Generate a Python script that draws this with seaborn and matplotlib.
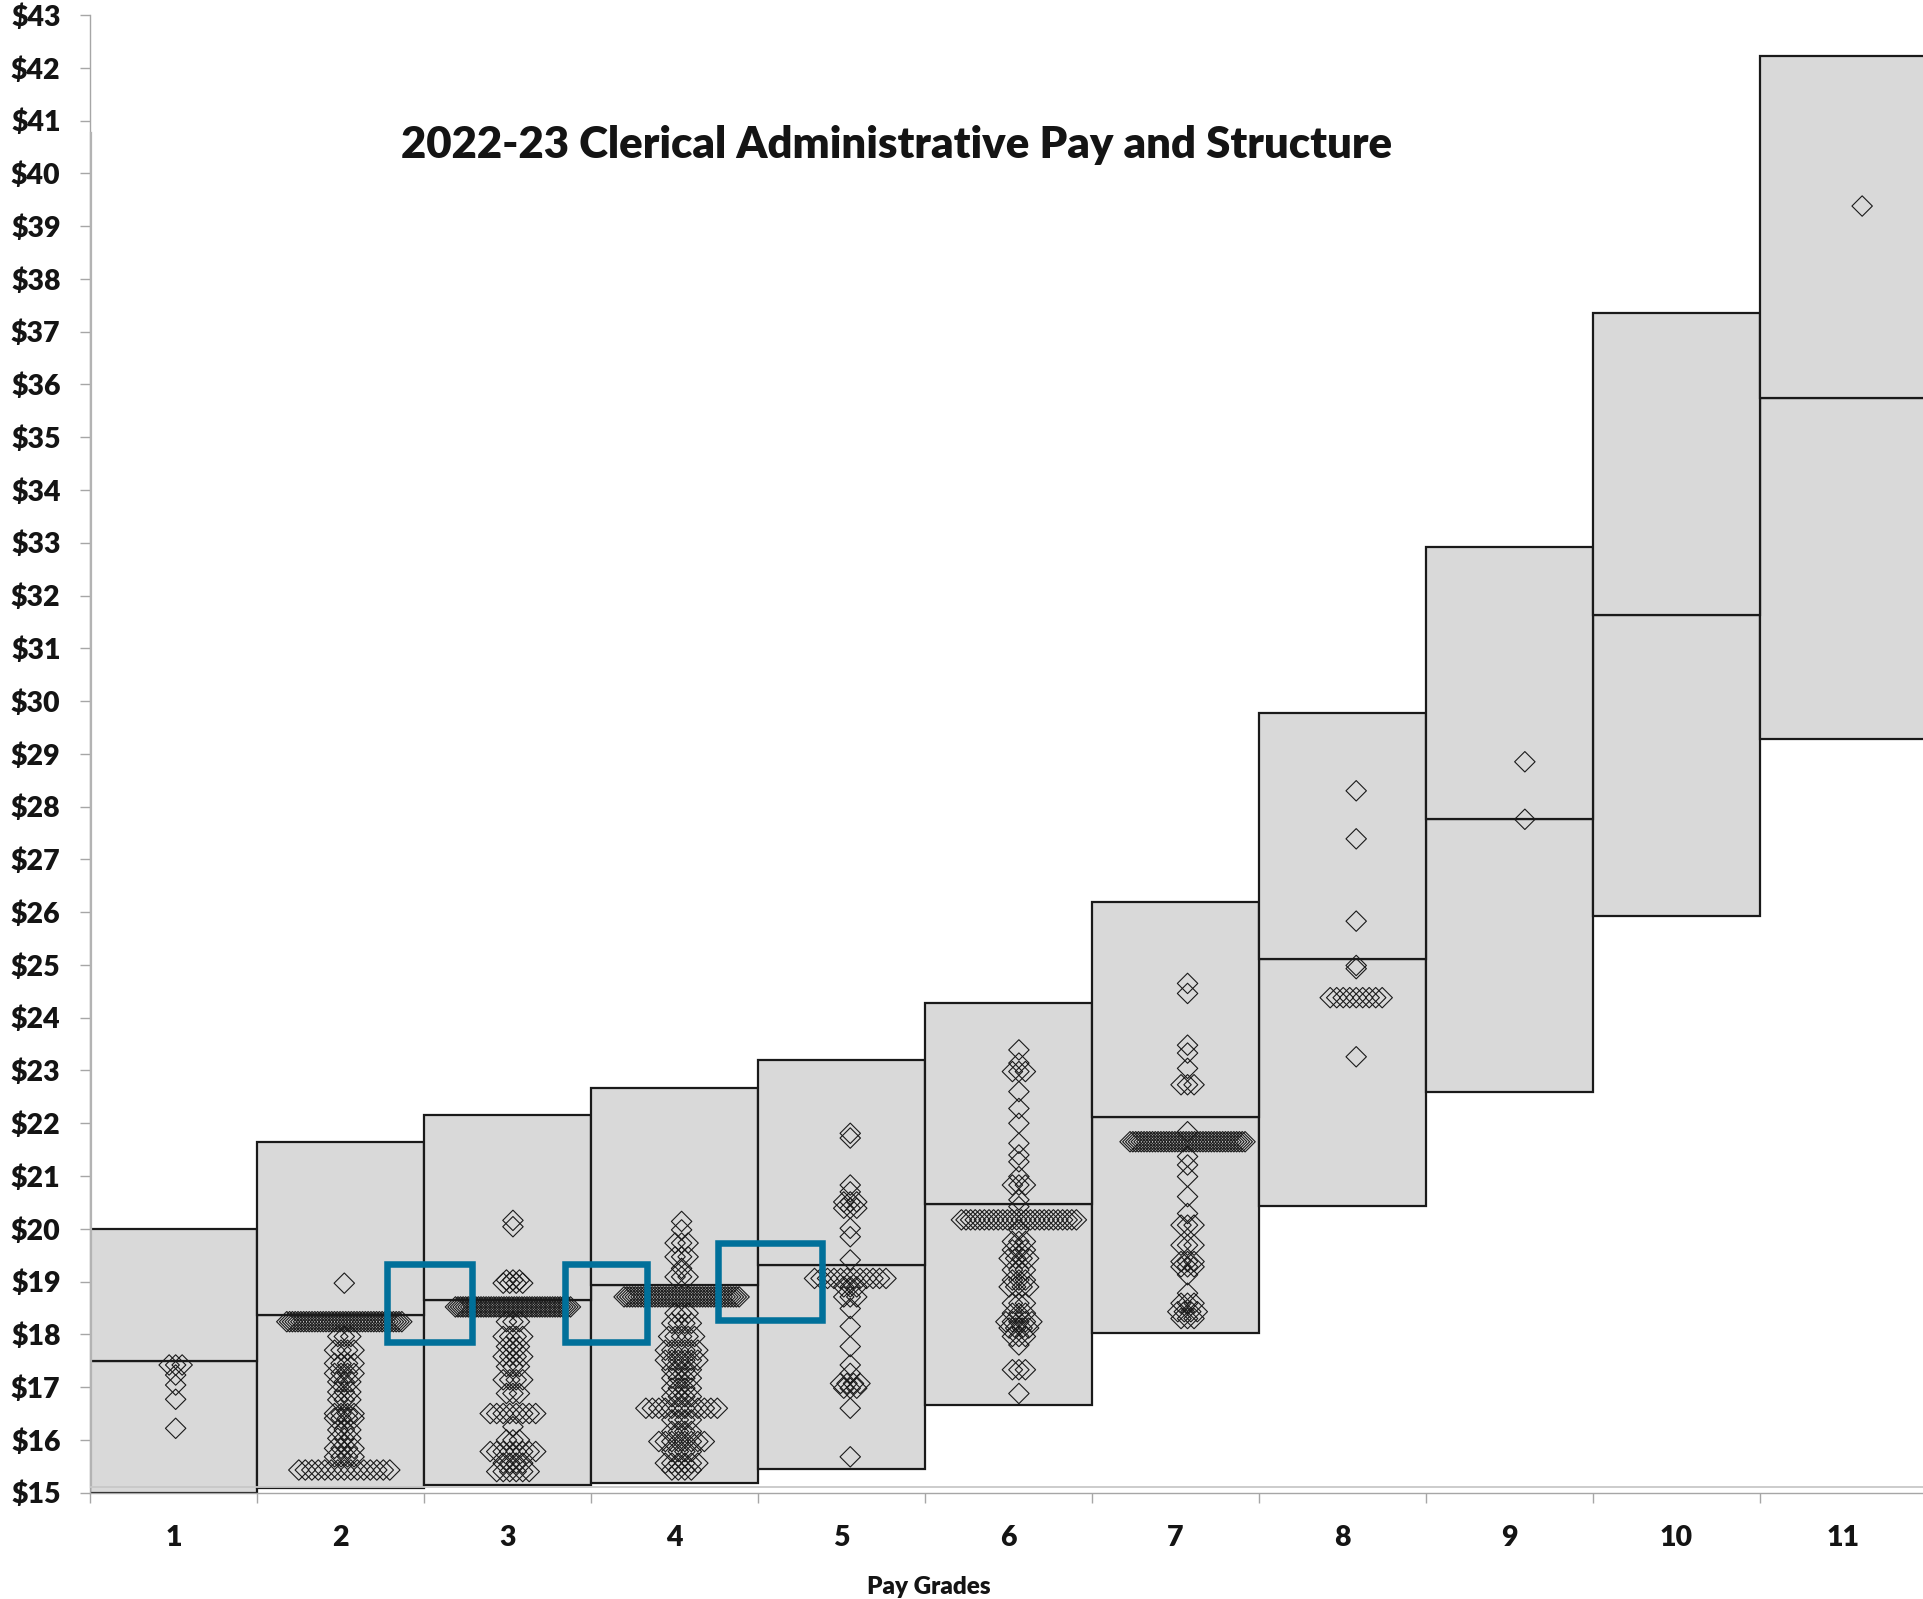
import numpy as np
import pandas as pd
import matplotlib
matplotlib.use("Agg")
import matplotlib.pyplot as plt
from matplotlib.patches import Rectangle
import seaborn as sns

# ---------------------------------------------------------------------------
# Pay structure by grade (hourly): range minimum, midpoint, maximum
# ---------------------------------------------------------------------------
grades = ["1", "2", "3", "4", "5", "6", "7", "8", "9", "10", "11"]
range_min = [15.00, 15.09, 15.14, 15.19, 15.44, 16.67, 18.02, 20.44, 22.60, 25.92, 29.29]
range_mid = [17.50, 18.37, 18.65, 18.93, 19.32, 20.47, 22.11, 25.11, 27.76, 31.64, 35.75]
range_max = [20.00, 21.65, 22.16, 22.67, 23.20, 24.27, 26.20, 29.78, 32.91, 37.35, 42.23]

# Employee hourly rates per grade: rate and number of employees paid that rate
g1_rate = [17.42, 17.23, 17.04, 16.77, 16.22]
g1_count = [3, 1, 1, 1, 1]

g2_rate = [18.97, 18.24, 17.96, 17.70, 17.45, 17.26, 17.10, 16.91, 16.76, 16.50,
           16.41, 16.19, 16.03, 15.84, 15.68, 15.43]
g2_count = [1, 42, 3, 4, 4, 4, 3, 3, 3, 4, 4, 3, 3, 4, 4, 15]

g3_rate = [20.16, 20.04, 19.03, 18.97, 18.52, 18.24, 17.96, 17.77, 17.58, 17.39,
           17.14, 16.88, 16.50, 16.25, 16.00, 15.78, 15.56, 15.40]
g3_count = [1, 1, 3, 4, 46, 3, 4, 3, 4, 3, 4, 3, 8, 1, 3, 8, 4, 6]

g4_rate = [20.14, 19.98, 19.73, 19.47, 19.25, 19.09, 18.71, 18.40, 18.21, 17.96,
           17.70, 17.51, 17.33, 17.17, 16.98, 16.82, 16.60, 16.38, 16.16, 15.97,
           15.78, 15.56, 15.43]
g4_count = [1, 1, 3, 3, 1, 3, 42, 3, 4, 5, 6, 6, 4, 4, 4, 4, 12, 4, 4, 8, 4, 6, 4]

g5_rate = [21.81, 21.72, 20.83, 20.70, 20.51, 20.39, 20.01, 19.85, 19.41, 19.06,
           18.90, 18.71, 18.49, 18.15, 17.77, 17.42, 17.26, 17.07, 16.98, 16.60, 15.68]
g5_count = [1, 1, 1, 1, 3, 3, 1, 1, 1, 12, 3, 3, 1, 1, 1, 1, 1, 4, 3, 1, 1]

g6_rate = [23.39, 23.14, 22.98, 22.60, 22.28, 22.00, 21.62, 21.40, 21.27, 20.99,
           20.83, 20.55, 20.42, 20.17, 19.98, 19.76, 19.60, 19.44, 19.22, 19.03,
           18.90, 18.59, 18.40, 18.24, 18.12, 17.96, 17.80, 17.33, 16.88]
g6_count = [1, 1, 3, 1, 1, 1, 1, 1, 1, 1, 3, 1, 1, 26, 1, 3, 3, 4, 3, 3,
            4, 3, 3, 5, 4, 3, 1, 3, 1]

g7_rate = [24.65, 24.46, 23.48, 23.33, 23.04, 22.73, 21.84, 21.65, 21.37, 21.21,
           20.99, 20.61, 20.29, 20.07, 19.69, 19.38, 19.28, 19.13, 18.78, 18.59,
           18.43, 18.30]
g7_count = [1, 1, 1, 1, 1, 3, 1, 42, 1, 1, 1, 1, 1, 3, 3, 3, 3, 1, 1, 3, 4, 3]

g8_rate = [28.30, 27.39, 25.83, 24.99, 24.93, 24.38, 23.26]
g8_count = [1, 1, 1, 1, 1, 9, 1]

g9_rate = [28.85, 27.76]
g9_count = [1, 1]

g10_rate = []
g10_count = []

g11_rate = [39.38]
g11_count = [1]

y_ticks = list(range(15, 44))
y_labels = [f"${v}" for v in y_ticks]

title = "2022-23 Clerical Administrative Pay and Structure"
x_title = "Pay Grades"

# ---------------------------------------------------------------------------
# Styling
# ---------------------------------------------------------------------------
sns.set_style("white")
plt.rcParams["font.family"] = ["Lato", "DejaVu Sans"]
plt.rcParams["font.weight"] = "bold"

TEXT = "#141414"
AXIS_GRAY = "#a6a6a6"
FILL = "#d9d9d9"
EDGE = "#1a1a1a"
HILITE = "#00709a"

W_PX, H_PX, DPI = 1923, 1599, 100
fig = plt.figure(figsize=(W_PX / DPI, H_PX / DPI), dpi=DPI)
fig.patch.set_facecolor("white")

# main (range) axes, placed in pixels
AX_L, AX_R, AX_T, AX_B = 90.0, 1927.0, 15.0, 1492.7
Y0, Y1 = 15, 43
ax = fig.add_axes([AX_L / W_PX, 1 - AX_B / H_PX,
                   (AX_R - AX_L) / W_PX, (AX_B - AX_T) / H_PX])

ranges = pd.DataFrame({"grade": grades, "min": range_min,
                       "mid": range_mid, "max": range_max})
ranges["lower"] = ranges["mid"] - ranges["min"]
ranges["upper"] = ranges["max"] - ranges["mid"]

box_kw = dict(order=grades, color=FILL, saturation=1, width=1.0, errorbar=None,
              edgecolor=EDGE, linewidth=1.6, ax=ax)
sns.barplot(data=ranges, x="grade", y="lower", bottom=ranges["min"].to_numpy(), **box_kw)
sns.barplot(data=ranges, x="grade", y="upper", bottom=ranges["mid"].to_numpy(), **box_kw)

ax.set_xlim(-0.5, len(grades) - 0.5)
ax.set_ylim(Y0, Y1)
ax.set_yticks(y_ticks)
ax.set_yticklabels(y_labels, fontsize=20.5, fontweight="heavy", color=TEXT)
ax.set_xticks(range(len(grades)))
ax.set_xticklabels(grades, fontsize=20.5, fontweight="heavy", color=TEXT)
ax.set_xticks(np.arange(-0.5, len(grades)), minor=True)
ax.tick_params(axis="x", which="major", length=0, pad=23.5)
ax.tick_params(axis="x", which="minor", length=7.2, width=1.0, color=AXIS_GRAY,
               direction="out", bottom=True)
ax.tick_params(axis="y", which="major", length=7.2, width=1.0, color=AXIS_GRAY,
               direction="out", left=True, pad=14)
for side in ("top", "right"):
    ax.spines[side].set_visible(False)
for side in ("left", "bottom"):
    ax.spines[side].set_color(AXIS_GRAY)
    ax.spines[side].set_linewidth(1.0)
ax.set_ylabel("")
ax.set_xlabel(x_title, fontsize=17.5, fontweight="heavy", color=TEXT)
ax.xaxis.set_label_coords(0.4567, -0.0565)
ax.set_title(title, fontsize=31.5, fontweight="heavy", color=TEXT,
             x=0.439, y=0.912, va="center", pad=0)

# ---------------------------------------------------------------------------
# Employee rate overlay on its own plot area (secondary axes)
# ---------------------------------------------------------------------------
px_per_dollar = (AX_B - AX_T) / (Y1 - Y0)


def y_px(v):
    return AX_B - (v - Y0) * px_per_dollar


S_Y0, S_Y1 = 15.11, 40.76
S_X0, S_X1 = 0.5, 11.4
GRADE_PX, GRADE_ORIGIN = 168.65, 7.0
s_left = GRADE_ORIGIN + GRADE_PX * S_X0
s_width = GRADE_PX * (S_X1 - S_X0)
ax2 = fig.add_axes([s_left / W_PX, 1 - y_px(S_Y0) / H_PX,
                    s_width / W_PX, (y_px(S_Y0) - y_px(S_Y1)) / H_PX])
ax2.patch.set_visible(False)

per_grade = [
    (g1_rate, g1_count), (g2_rate, g2_count), (g3_rate, g3_count),
    (g4_rate, g4_count), (g5_rate, g5_count), (g6_rate, g6_count),
    (g7_rate, g7_count), (g8_rate, g8_count), (g9_rate, g9_count),
    (g10_rate, g10_count), (g11_rate, g11_count),
]

# identical rates are spread sideways around the grade position
BASE_STEP = 6.5 / GRADE_PX
MAX_SPREAD = 115.0 / GRADE_PX
rows = []
for gi, (rates, counts) in enumerate(per_grade, start=1):
    for rate, n in zip(rates, counts):
        step = min(BASE_STEP, MAX_SPREAD / (n - 1)) if n > 1 else 0.0
        for k in range(n):
            rows.append({"grade": gi, "pos": gi + (k - (n - 1) / 2) * step, "rate": rate})
points = pd.DataFrame(rows)

sns.scatterplot(data=points, x="pos", y="rate", marker="D", s=108,
                facecolor="none", edgecolor=EDGE, linewidth=0.8,
                legend=False, ax=ax2, zorder=3)

ax2.set_xlim(S_X0, S_X1)
ax2.set_ylim(S_Y0, S_Y1)
ax2.set_xticks([])
ax2.set_yticks([])
ax2.set_xlabel("")
ax2.set_ylabel("")
for side in ("top", "right"):
    ax2.spines[side].set_visible(False)
ax2.spines["left"].set_color("#b3b3b3")
ax2.spines["left"].set_linewidth(1.6)
ax2.spines["bottom"].set_color("#c8c8c8")
ax2.spines["bottom"].set_linewidth(1.3)

# highlight boxes where neighbouring grade midpoints overlap
highlights = [
    (2.255, 17.86, 0.500, 1.47),
    (3.310, 17.86, 0.487, 1.47),
    (4.218, 18.27, 0.613, 1.46),
]
for x0, y0, w, h in highlights:
    ax2.add_patch(Rectangle((x0, y0), w, h, fill=False, edgecolor=HILITE,
                            linewidth=4.7, joinstyle="miter", zorder=6, clip_on=False))

fig.savefig("out.png", dpi=DPI, facecolor="white")
